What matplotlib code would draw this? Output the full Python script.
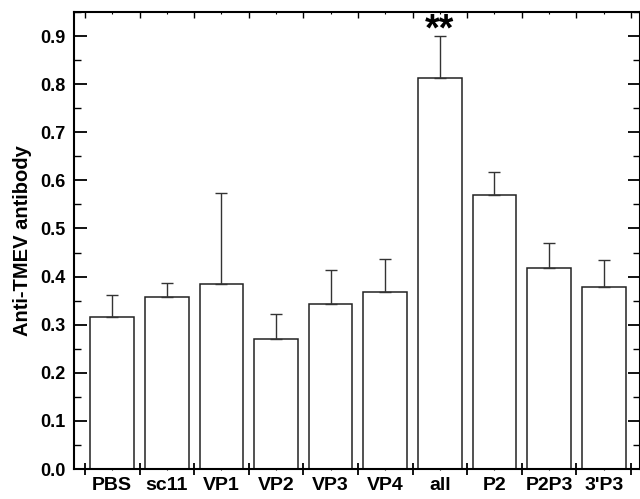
import matplotlib
matplotlib.use("Agg")
import matplotlib.pyplot as plt
import numpy as np
from matplotlib.ticker import MultipleLocator

plt.rcParams['font.family'] = ['Liberation Sans', 'DejaVu Sans']
plt.rcParams['font.weight'] = 'bold'

groups = ["PBS", "sc11", "VP1", "VP2", "VP3", "VP4", "all", "P2", "P2P3", "3'P3"]
means = [0.317, 0.358, 0.385, 0.270, 0.343, 0.369, 0.812, 0.570, 0.418, 0.378]
upper = [0.362, 0.387, 0.574, 0.322, 0.413, 0.436, 0.900, 0.618, 0.470, 0.435]
errs = np.array(upper) - np.array(means)

fig = plt.figure(figsize=(6.4, 4.99), dpi=100)
ax = fig.add_axes([0.1156, 0.0601, 0.8844, 0.9158])

x = np.arange(len(groups))
ax.bar(x, means, width=0.8, color='white', edgecolor='#222222', linewidth=1.1, zorder=2)
ax.errorbar(x, means, yerr=[np.zeros(len(x)), errs], fmt='none', ecolor='#333333',
            elinewidth=1.0, capsize=4.5, capthick=1.0, zorder=3)

ax.text(6, 0.874, "**", ha='center', va='bottom', fontsize=27, fontweight='bold')

ax.set_xlim(-0.7, 9.665)
ax.set_ylim(0, 0.95)

# y axis: ticks both sides, inward
ax.yaxis.set_major_locator(MultipleLocator(0.1))
ax.yaxis.set_minor_locator(MultipleLocator(0.05))
ax.tick_params(axis='y', which='major', direction='in', length=9, width=1.3,
               left=True, right=True, labelsize=13, pad=6)
ax.tick_params(axis='y', which='minor', direction='in', length=5, width=1.0,
               left=True, right=True)
ax.set_yticklabels([f"{v:.1f}" for v in ax.get_yticks()])

# x axis: boundary ticks at bottom (inout), labels centered under bars
ax.set_xticks(np.arange(-0.5, len(groups), 1.0))
ax.set_xticklabels([])
ax.set_xticks(x, minor=True)
ax.set_xticklabels(groups, minor=True, fontsize=14, fontweight='bold')
ax.tick_params(axis='x', which='major', direction='inout', length=9, width=1.3,
               top=False, bottom=True)
ax.tick_params(axis='x', which='minor', direction='inout', length=2, width=0.8,
               top=False, bottom=True, pad=5)

top = ax.secondary_xaxis('top')
top.set_xticks(np.arange(-0.5, len(groups), 1.0))
top.set_xticks(x, minor=True)
top.tick_params(which='major', direction='in', length=4, width=1.0, labeltop=False)
top.tick_params(which='minor', direction='in', length=1.5, width=0.8, labeltop=False)
top.spines['top'].set_linewidth(1.3)

for s in ax.spines.values():
    s.set_linewidth(1.5)

ax.set_ylabel("Anti-TMEV antibody", fontsize=14.5, fontweight='bold', labelpad=6)

fig.savefig("out.png", dpi=100)
